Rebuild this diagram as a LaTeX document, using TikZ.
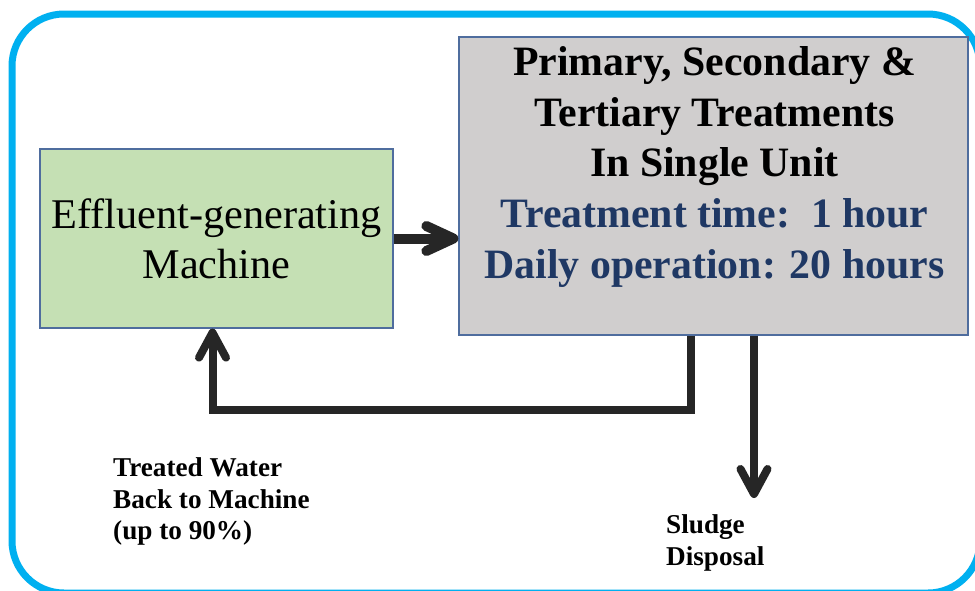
\documentclass[tikz,border=0pt]{standalone}
\usepackage{fontspec}
\setmainfont{Liberation Serif}
\usetikzlibrary{arrows.meta}
\definecolor{frameblue}{HTML}{00B0F0}
\definecolor{machinegreen}{HTML}{C5E0B4}
\definecolor{unitgray}{HTML}{D0CECE}
\definecolor{edgeblue}{HTML}{4F6D9E}
\definecolor{navytext}{HTML}{1F3864}
\definecolor{flowdark}{HTML}{262626}
\tikzset{
  panel/.style={draw=edgeblue, line width=1.3pt, inner sep=0pt},
  flow/.style={draw=flowdark, line join=miter},
  bigflow/.style={flow, line width=10pt, -{Straight Barb[length=27pt, width=25pt, round]}},
  thinflow/.style={flow, line width=8pt, -{Straight Barb[length=25pt, width=27pt, round]}},
  caption/.style={align=left, anchor=north west, inner sep=0pt,
    font=\fontsize{27.2}{31.5}\selectfont\bfseries}
}
\begin{document}
\begin{tikzpicture}[x=1pt, y=-1pt]
  \useasboundingbox (0,0) rectangle (975,590);
  \clip (0,0) rectangle (975,590);
  \fill[white] (0,0) rectangle (975,590);

  % outer frame
  \draw[frameblue, line width=7pt, rounded corners=52pt] (12,14) rectangle (980,593);

  % process blocks
  \node[panel, fill=machinegreen, minimum width=353pt, minimum height=179pt,
        align=center, font=\fontsize{42.3}{50}\selectfont]
        (machine) at (216.5,238.5) {Effluent-generating\\Machine};
  \node[panel, fill=unitgray, minimum width=509pt, minimum height=298pt]
        (treat) at (713.5,186) {};
  \node[align=center, inner sep=0pt, font=\fontsize{41.8}{50.7}\selectfont\bfseries]
        (treattext) at (714.5,167)
        {Primary, Secondary \&\\Tertiary Treatments\\In Single Unit\\
         \textcolor{navytext}{Treatment time:\ \ 1 hour}\\
         \textcolor{navytext}{Daily operation: 20 hours}};

  % connectors
  \draw[bigflow] (machine.east) -- (machine.east -| treat.west);
  \coordinate (bend) at (691,410);
  \draw[thinflow] ([xshift=-22.5pt]treat.south) -- (bend) -| ([xshift=-4pt]machine.south);
  \coordinate (sludge) at (754,498);
  \draw[thinflow] (treat.south -| sludge) -- (sludge);

  % captions
  \node[caption] (returncap) at (113,457.5) {Treated Water\\Back to Machine\\(up to 90\%)};
  \node[caption] (sludgecap) at (666,514.5) {Sludge\\Disposal};
\end{tikzpicture}
\end{document}
